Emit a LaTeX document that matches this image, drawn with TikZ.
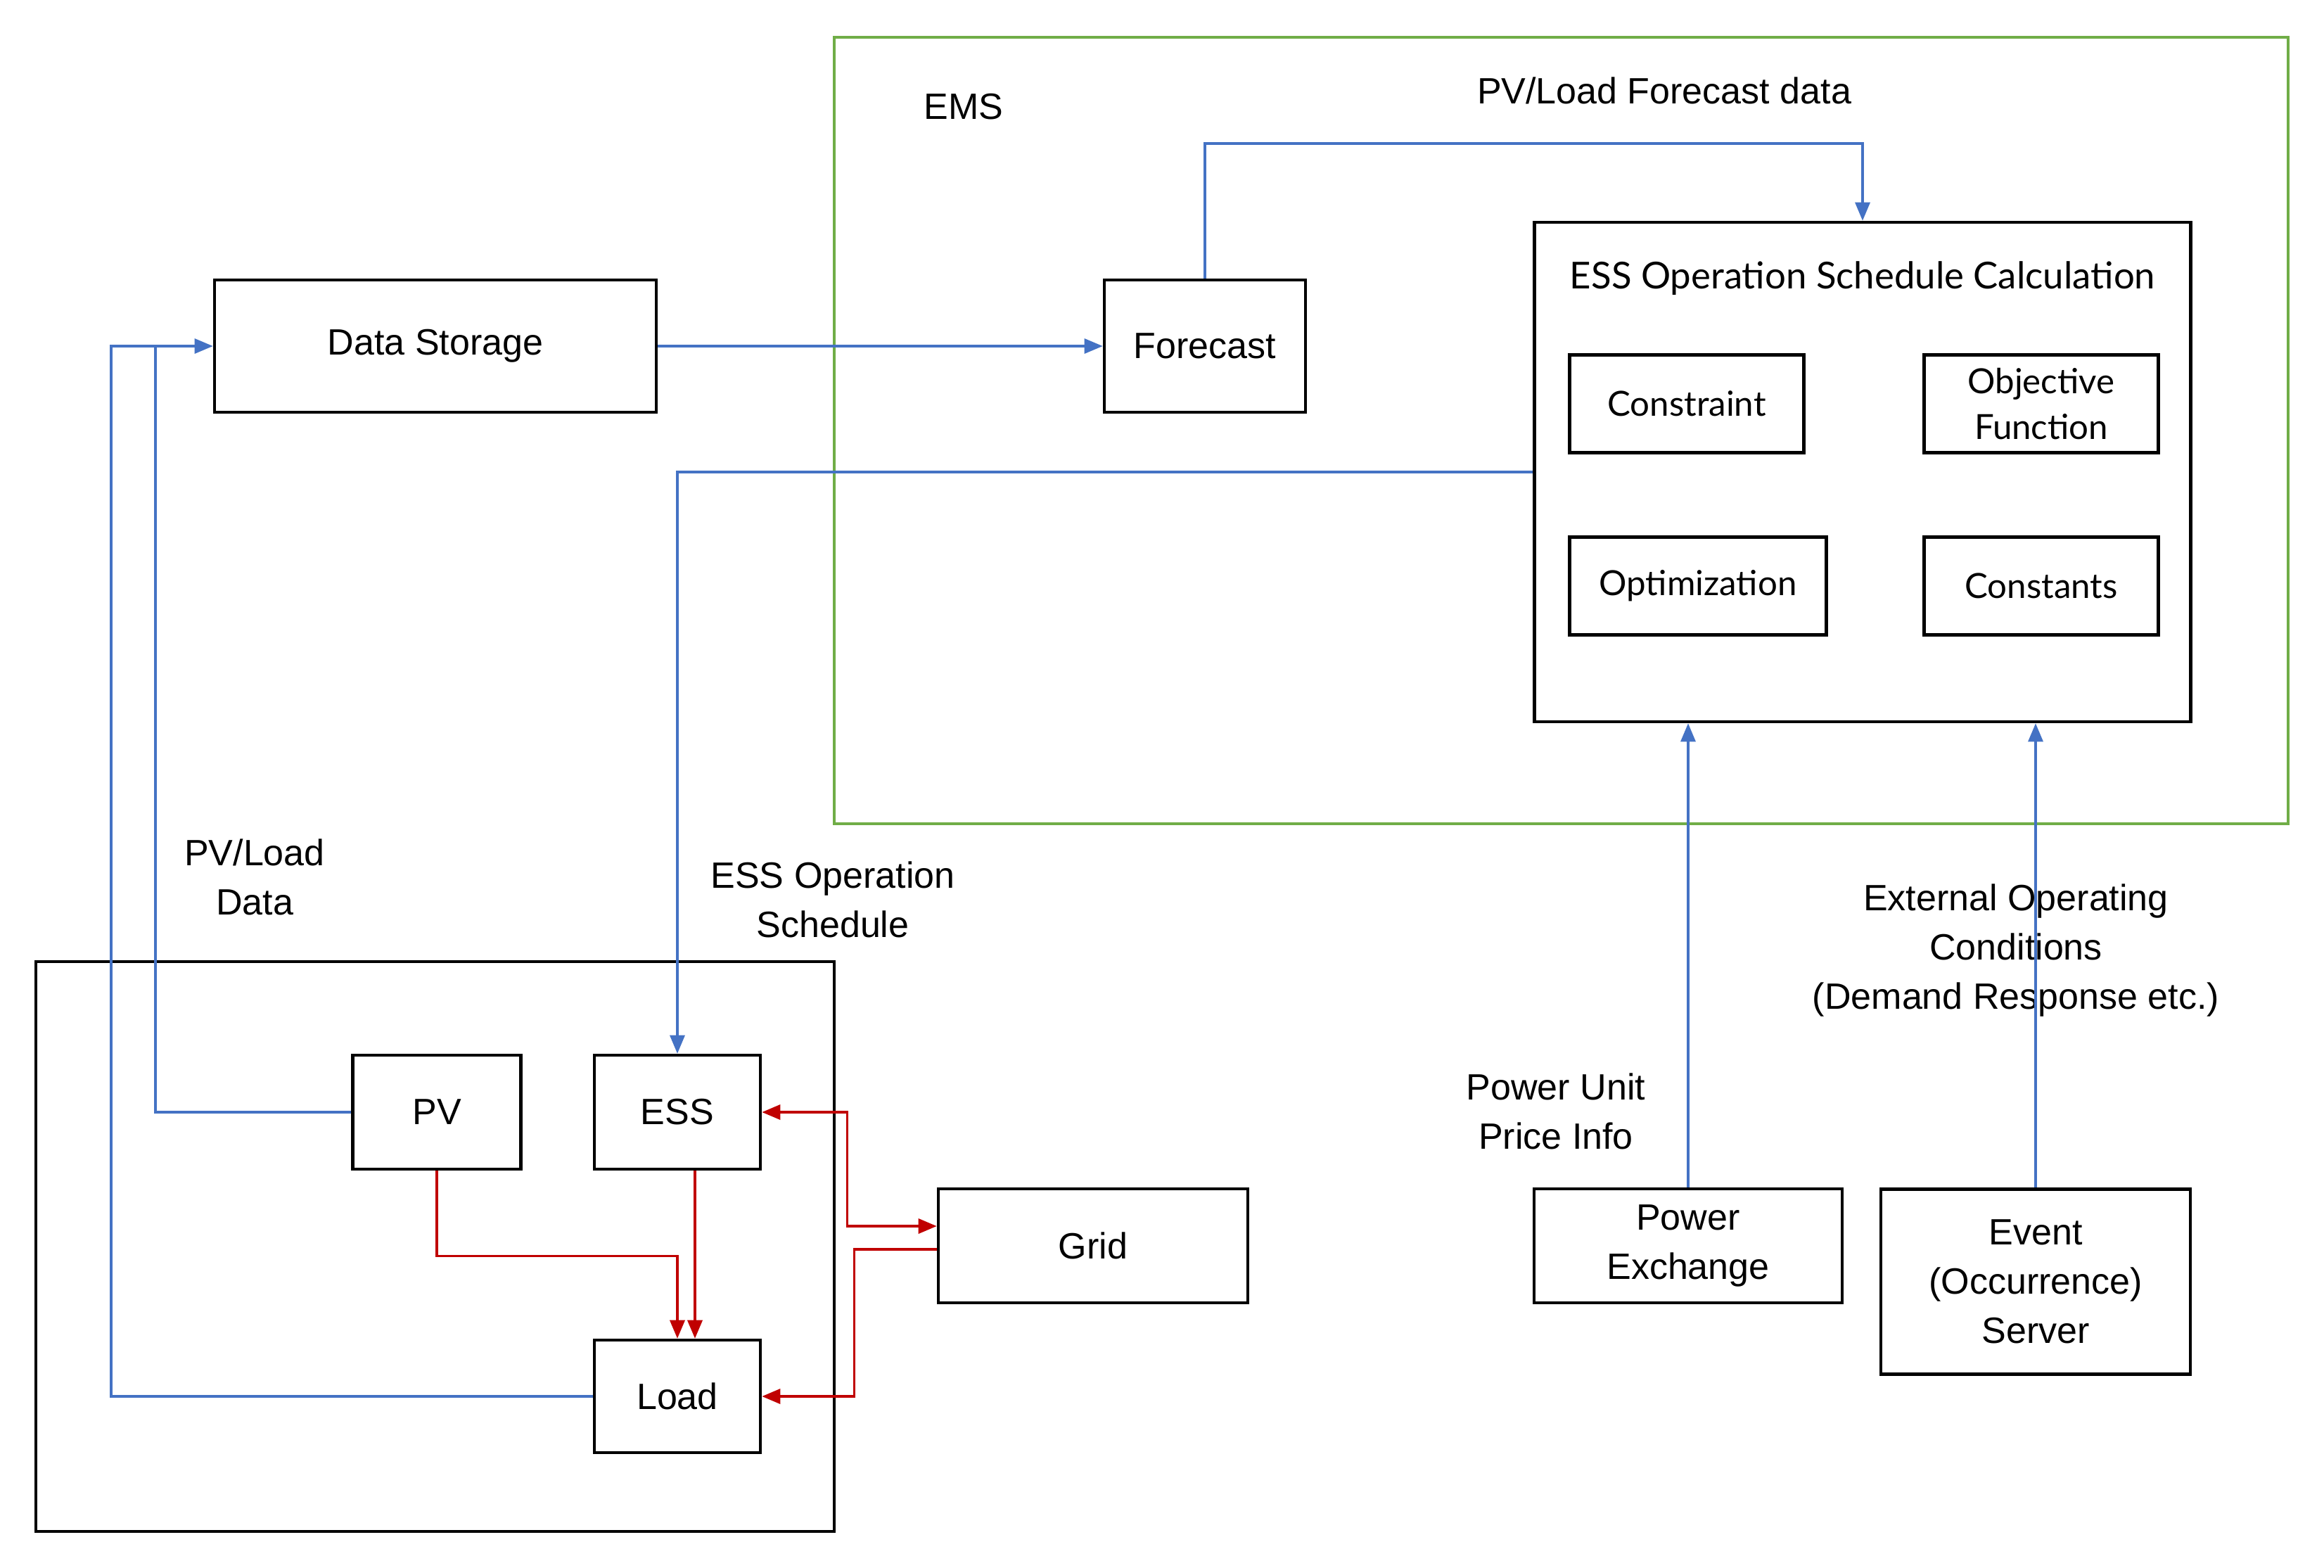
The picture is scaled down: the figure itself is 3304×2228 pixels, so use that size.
\documentclass[tikz,border=0pt]{standalone}
\usepackage{fontspec}
\setmainfont{Liberation Sans}
\newfontfamily\innerfont{Lato}
\usetikzlibrary{arrows.meta,calc}
\definecolor{lnblue}{HTML}{4472C4}
\definecolor{lnred}{HTML}{C00000}
\definecolor{lngreen}{HTML}{70AD47}
\tikzset{
  box/.style={draw=black,line width=1.3pt,fill=white,align=center,inner sep=0pt,font=\fontsize{14.8}{20}\selectfont},
  inbox/.style={box,font=\innerfont\fontsize{14}{18.5}\selectfont},
  lbl/.style={align=center,inner sep=0pt,font=\fontsize{14.8}{20}\selectfont},
  bl/.style={draw=lnblue,line width=0.9pt,-{Triangle[length=2.6mm,width=2.1mm]}},
  blp/.style={draw=lnblue,line width=0.9pt},
  rd/.style={draw=lnred,line width=1pt,-{Triangle[length=2.6mm,width=2.1mm]}},
  rdd/.style={draw=lnred,line width=1pt,{Triangle[length=2.6mm,width=2.1mm]}-{Triangle[length=2.6mm,width=2.1mm]}},
}
\begin{document}
\begin{tikzpicture}[x=0.1mm,y=-0.1mm]
\useasboundingbox[fill=white] (0,0) rectangle (3304,2228);
% frames
\draw[lngreen,line width=1pt] (1186,53) rectangle (3253,1171);
\draw[black,line width=1.3pt] (51,1367) rectangle (1186,2177);
% nodes
\node[box,minimum width=62.8mm,minimum height=18.8mm] (DS) at (619,492) {Data Storage};
\node[box,minimum width=28.6mm,minimum height=18.8mm] (FC) at (1713,492) {Forecast};
\node[box,minimum width=93.3mm,minimum height=71mm] (calc) at (2648,671) {};
\node[lbl,font=\innerfont\fontsize{15}{19}\selectfont] (calcT) at (2648,396) {ESS Operation Schedule Calculation};
\node[inbox,minimum width=33.3mm,minimum height=13.9mm] (CS) at (2398,574) {Constraint};
\node[inbox,minimum width=33.3mm,minimum height=13.9mm] (OF) at (2902,574) {Objective\\Function};
\node[inbox,minimum width=36.5mm,minimum height=13.9mm] (OP) at (2414,833) {Optimization};
\node[inbox,minimum width=33.3mm,minimum height=13.9mm] (CN) at (2902,833) {Constants};
\node[box,minimum width=23.9mm,minimum height=16.2mm] (PV) at (621,1581) {PV};
\node[box,minimum width=23.6mm,minimum height=16.2mm] (ESS) at (963,1581) {ESS};
\node[box,minimum width=23.6mm,minimum height=16mm] (LD) at (963,1985) {Load};
\node[box,minimum width=44mm,minimum height=16.2mm] (GR) at (1554,1771) {Grid};
\node[box,minimum width=43.8mm,minimum height=16.2mm] (PX) at (2400,1771) {Power\\Exchange};
\node[box,minimum width=44mm,minimum height=26.3mm] (EV) at (2894,1822) {Event\\(Occurrence)\\Server};
% labels
\node[lbl] (lEMS) at (1370,152) {EMS};
\node[lbl] (lPLF) at (2366,129) {PV/Load Forecast data};
\node[lbl] (lPLD) at (362,1247) {PV/Load\\Data};
\node[lbl] (lESO) at (1184,1279) {ESS Operation\\Schedule};
\node[lbl] (lPUP) at (2212,1580) {Power Unit\\Price Info};
\node[lbl] (lEXT) at (2866,1351) {External Operating\\Conditions\\(Demand Response etc.)};
% coordinates
\coordinate (c1) at (158,492);
\coordinate (c2) at (221,492);
\coordinate (c3) at (1713,204);
% blue connectors
\draw[bl] (LD.west) -| (c1) -- (DS.west);
\draw[blp] (PV.west) -| (c2);
\draw[bl] (DS.east) -- (FC.west);
\draw[bl] (FC.north) -- (c3) -| (calc.north);
\draw[bl] (calc.west) -| (ESS.north);
\draw[bl] (PX.north) -- (PX.north |- calc.south);
\draw[bl] (EV.north) -- (EV.north |- calc.south);
% red connectors
\draw[rd] (PV.south) |- ($(PV.south)+(0,121)$) -| (LD.north);
\draw[rd] ($(ESS.south)+(25,0)$) -- ($(LD.north)+(25,0)$);
\draw[rdd] (ESS.east) -| ($(GR.west)+(-127,-28)$) -- ($(GR.west)+(0,-28)$);
\draw[rd] ($(GR.west)+(0,5)$) -| ($(LD.east)+(131,0)$) -- (LD.east);
\end{tikzpicture}
\end{document}
